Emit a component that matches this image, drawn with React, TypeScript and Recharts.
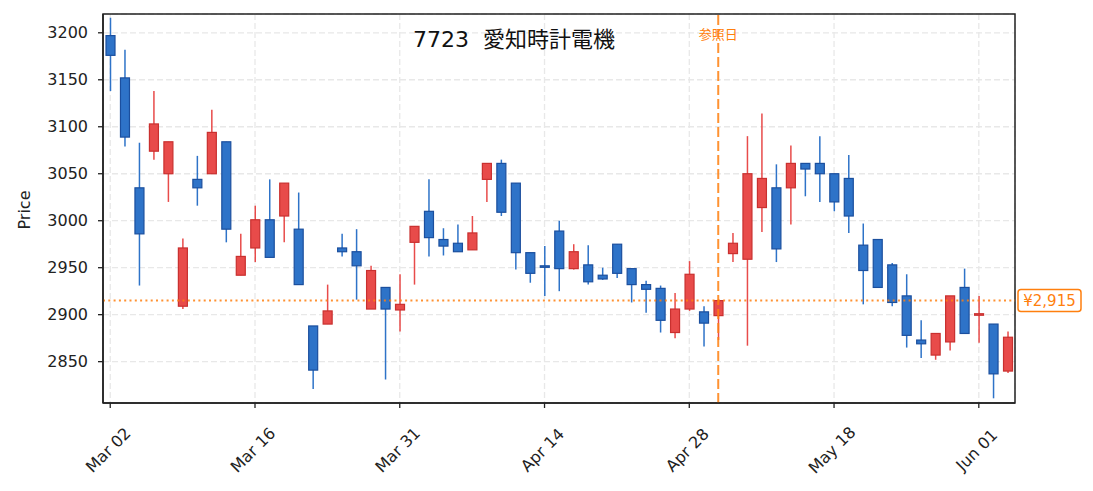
import React from 'react';
import { ComposedChart, Bar, XAxis, YAxis, CartesianGrid, ReferenceLine, ReferenceArea } from 'recharts';

// trading days (2026, TSE calendar)
const dates = [
  'Mar 02', 'Mar 03', 'Mar 04', 'Mar 05', 'Mar 06',
  'Mar 09', 'Mar 10', 'Mar 11', 'Mar 12', 'Mar 13',
  'Mar 16', 'Mar 17', 'Mar 18', 'Mar 19',
  'Mar 23', 'Mar 24', 'Mar 25', 'Mar 26', 'Mar 27',
  'Mar 30', 'Mar 31', 'Apr 01', 'Apr 02', 'Apr 03',
  'Apr 06', 'Apr 07', 'Apr 08', 'Apr 09', 'Apr 10',
  'Apr 13', 'Apr 14', 'Apr 15', 'Apr 16', 'Apr 17',
  'Apr 20', 'Apr 21', 'Apr 22', 'Apr 23', 'Apr 24',
  'Apr 27', 'Apr 28', 'Apr 30', 'May 01',
  'May 07', 'May 08',
  'May 11', 'May 12', 'May 13', 'May 14', 'May 15',
  'May 18', 'May 19', 'May 20', 'May 21', 'May 22',
  'May 25', 'May 26', 'May 27', 'May 28', 'May 29',
  'Jun 01', 'Jun 02', 'Jun 03',
];

const opens = [
  3197, 3152, 3035, 3074, 3050, 2909, 3044, 3050, 3084, 2942,
  2971, 3001, 3005, 2991, 2888, 2890, 2971, 2967, 2906, 2929,
  2905, 2977, 3010, 2980, 2976, 2969, 3044, 3061, 3040, 2966,
  2952, 2989, 2949, 2953, 2942, 2975, 2949, 2932, 2928, 2881,
  2906, 2903, 2899, 2965, 2959, 3014, 3035, 3035, 3061, 3061,
  3050, 3045, 2974, 2980, 2953, 2920, 2873, 2857, 2871, 2929,
  2900, 2890, 2840,
];

const highs = [
  3216, 3182, 3083, 3138, 3084, 2981, 3069, 3118, 3084, 2986,
  3016, 3044, 3040, 3030, 2888, 2932, 2986, 2991, 2952, 2929,
  2943, 2994, 3044, 2992, 2996, 3005, 3061, 3065, 3040, 2966,
  2973, 3000, 2975, 2974, 2950, 2975, 2949, 2936, 2931, 2923,
  2957, 2909, 2916, 2987, 3090, 3114, 3060, 3080, 3061, 3090,
  3050, 3070, 2997, 2980, 2955, 2943, 2894, 2880, 2920, 2949,
  2920, 2890, 2882,
];

const lows = [
  3138, 3079, 2931, 3065, 3020, 2906, 3016, 3050, 2977, 2942,
  2956, 2961, 2977, 2932, 2821, 2890, 2962, 2916, 2906, 2831,
  2882, 2932, 2962, 2963, 2967, 2969, 3020, 3005, 2948, 2934,
  2920, 2925, 2948, 2932, 2937, 2939, 2913, 2902, 2881, 2875,
  2904, 2866, 2873, 2956, 2867, 2988, 2956, 2996, 3026, 3020,
  3010, 2987, 2911, 2929, 2909, 2865, 2854, 2852, 2862, 2880,
  2870, 2811, 2838,
];

const closes = [
  3176, 3089, 2986, 3103, 3084, 2971, 3035, 3094, 2991, 2962,
  3001, 2961, 3040, 2932, 2841, 2904, 2967, 2952, 2947, 2906,
  2911, 2994, 2982, 2973, 2967, 2987, 3061, 3009, 2966, 2944,
  2951, 2949, 2967, 2935, 2938, 2944, 2932, 2927, 2894, 2906,
  2943, 2891, 2915, 2976, 3050, 3045, 2970, 3061, 3055, 3050,
  3020, 3005, 2947, 2929, 2913, 2878, 2869, 2880, 2920, 2880,
  2901, 2837, 2876,
];

const tickLabels = ['Mar 02', 'Mar 16', 'Mar 31', 'Apr 14', 'Apr 28', 'May 18', 'Jun 01'];
const priceTicks = [2850, 2900, 2950, 3000, 3050, 3100, 3150, 3200];
const refDate = 'May 01';
const refPrice = 2915;
const title = '7723  愛知時計電機';

const data = dates.map((d, i) => ({
  date: d,
  open: opens[i],
  high: highs[i],
  low: lows[i],
  close: closes[i],
}));

const Y_MIN = 2806;
const Y_MAX = 3220;

const FONT = '"DejaVu Sans", "Noto Sans CJK JP", sans-serif';
const ORANGE = '#ff7f0e';
const UP_FILL = '#e84b4a';
const UP_EDGE = '#c9302f';
const DOWN_FILL = '#2e73c8';
const DOWN_EDGE = '#1b4f9e';

const Candle = (props: any) => {
  const { x, y, width, height, payload } = props;
  const { open, close, high, low } = payload;
  const top = Math.min(y, y + height);
  const h = Math.abs(height);
  const py = (v: number) => top + ((high - v) / (high - low)) * h;
  const up = close >= open;
  const bTop = py(Math.max(open, close));
  const bBot = py(Math.min(open, close));
  const cx = x + width / 2;
  return (
    <g>
      <line x1={cx} x2={cx} y1={top} y2={top + h} stroke={up ? UP_FILL : DOWN_FILL} strokeWidth={1.5} />
      <rect
        x={x}
        y={bTop}
        width={width}
        height={Math.max(bBot - bTop, 1.5)}
        fill={up ? UP_FILL : DOWN_FILL}
        stroke={up ? UP_EDGE : DOWN_EDGE}
        strokeWidth={1.2}
      />
    </g>
  );
};

const DateTick = (props: any) => {
  const { x, y, payload } = props;
  const cx = x - 2;
  const cy = y + 40;
  return (
    <text
      x={cx}
      y={cy}
      transform={`rotate(-45 ${cx} ${cy})`}
      textAnchor="middle"
      dominantBaseline="central"
      fontSize={16}
      fontFamily={FONT}
      fill="#222"
    >
      {payload.value}
    </text>
  );
};

const PriceTag = (props: any) => {
  const { viewBox } = props;
  const bx = viewBox.x + viewBox.width + 3;
  const by = viewBox.y;
  return (
    <g>
      <rect x={bx} y={by - 11} width={63} height={22} rx={3} fill="#fff" stroke={ORANGE} strokeWidth={1.5} />
      <text x={bx + 31.5} y={by} textAnchor="middle" dominantBaseline="central" fontSize={15} fontFamily={FONT} fill={ORANGE}>
        ¥{refPrice.toLocaleString('en-US')}
      </text>
    </g>
  );
};

const RefTag = (props: any) => {
  const { viewBox } = props;
  return (
    <text x={viewBox.x} y={34} textAnchor="middle" dominantBaseline="central" fontSize={13} fontFamily={FONT} fill={ORANGE}>
      参照日
    </text>
  );
};

const PriceLabel = () => (
  <text x={24} y={210} transform="rotate(-90 24 210)" textAnchor="middle" dominantBaseline="central" fontSize={16} fontFamily={FONT} fill="#222">
    Price
  </text>
);

export default function App() {
  return (
    <div style={{ position: 'absolute', left: 0, top: 0, width: 1093, height: 491, background: '#fff' }}>
      <ComposedChart width={1093} height={491} data={data} margin={{ top: 14, right: 78, bottom: 28, left: 43 }}>
        <CartesianGrid stroke="#e8e8e8" strokeDasharray="6 3" strokeWidth={1.3} />
        <XAxis
          dataKey="date"
          ticks={tickLabels}
          interval={0}
          tick={<DateTick />}
          height={60}
          tickSize={5}
          axisLine={{ stroke: '#222', strokeWidth: 1.5 }}
          tickLine={{ stroke: '#222', strokeWidth: 1.3 }}
        />
        <YAxis
          domain={[Y_MIN, Y_MAX]}
          ticks={priceTicks}
          allowDataOverflow
          width={60}
          tickSize={5}
          tickMargin={10}
          tick={{ fontSize: 16, fontFamily: FONT, fill: '#222' }}
          axisLine={{ stroke: '#222', strokeWidth: 1.5 }}
          tickLine={{ stroke: '#222', strokeWidth: 1.3 }}
          label={{ content: <PriceLabel /> }}
        />
        <Bar
          dataKey={(d: any) => [d.low, d.high]}
          barSize={9}
          shape={<Candle />}
          isAnimationActive={false}
        />
        <ReferenceLine
          y={refPrice}
          stroke={ORANGE}
          strokeOpacity={0.85}
          strokeWidth={2}
          strokeDasharray="2 3.3"
          label={<PriceTag />}
        />
        <ReferenceLine
          x={refDate}
          stroke={ORANGE}
          strokeOpacity={0.85}
          strokeWidth={2}
          strokeDasharray="10 4"
          label={<RefTag />}
        />
        <ReferenceArea y1={Y_MIN} y2={Y_MAX} fill="none" fillOpacity={0} stroke="#222" strokeWidth={1.5} />
      </ComposedChart>
      <div
        style={{
          position: 'absolute',
          left: 413,
          top: 25,
          fontFamily: FONT,
          fontSize: 22,
          color: '#111',
          whiteSpace: 'pre',
          lineHeight: '30px',
        }}
      >
        {title}
      </div>
    </div>
  );
}
